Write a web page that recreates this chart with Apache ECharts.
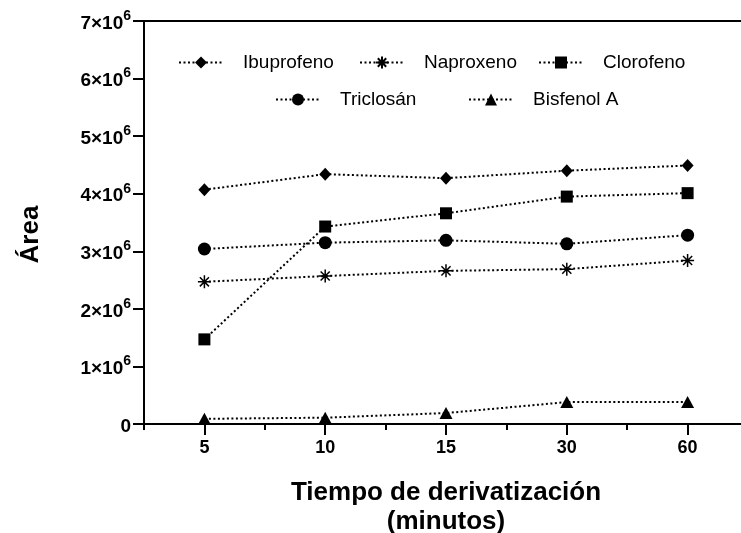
<!DOCTYPE html>
<html>
<head>
<meta charset="utf-8">
<title>Área vs tiempo de derivatización</title>
<script src="https://cdn.jsdelivr.net/npm/echarts@6/dist/echarts.min.js"></script>
<style>
	html, body { margin: 0; padding: 0; background: #fff; }
	.chart { width: 741px; height: 533px; }
</style>
</head>
<body>
<div class="chart"></div>
<script>
// data (Área)
let times = ['5', '10', '15', '30', '60'];
let seriesNames = ['Ibuprofeno', 'Naproxeno', 'Clorofeno', 'Triclosán', 'Bisfenol A'];
let ibuprofeno = [4.07e6, 4.34e6, 4.27e6, 4.40e6, 4.49e6];
let naproxeno = [2.47e6, 2.57e6, 2.66e6, 2.69e6, 2.84e6];
let clorofeno = [1.47e6, 3.43e6, 3.66e6, 3.95e6, 4.01e6];
let triclosan = [3.04e6, 3.15e6, 3.19e6, 3.13e6, 3.28e6];
let bisfenol = [0.09e6, 0.11e6, 0.19e6, 0.38e6, 0.38e6];
let yTicks = [0, 1e6, 2e6, 3e6, 4e6, 5e6, 6e6, 7e6];

(function() {
	// 1、init
	let myChart = echarts.init(document.querySelector('.chart'));

	let font = 'Liberation Sans, Arial, sans-serif';
	let asterisk = 'path://M0,5L10,5M5,0L5,10M1.5,1.5L8.5,8.5M8.5,1.5L1.5,8.5';
	let symbols = ['diamond', asterisk, 'rect', 'circle', 'triangle'];
	let sizes = [[12, 13], 13, 12, 13, [13, 12]];
	let allData = [ibuprofeno, naproxeno, clorofeno, triclosan, bisfenol];

	// legend positions (one legend per entry, laid out like the figure)
	let legendPos = [[173, 48], [354, 48], [533, 48], [270, 85], [463, 85]];

	function makeLegend(i) {
		return {
			data: [seriesNames[i]],
			left: legendPos[i][0],
			top: legendPos[i][1],
			itemWidth: 44,
			itemHeight: 15,
			textStyle: {
				color: '#000',
				fontFamily: font,
				fontSize: 19,
				padding: [0, 0, 0, 15]
			}
		};
	}

	// 2、option
	let option = {
		backgroundColor: '#fff',
		animation: false,
		legend: [0, 1, 2, 3, 4].map(makeLegend),
		grid: {
			left: 144,
			right: -7,
			top: 21,
			bottom: 109,
			outerBoundsMode: 'none'
		},
		xAxis: [{
			type: 'category',
			data: times,
			boundaryGap: true,
			axisLine: { lineStyle: { color: '#000', width: 2 } },
			axisTick: { show: true, alignWithLabel: true, length: 11, lineStyle: { color: '#000', width: 2 } },
			axisLabel: {
				color: '#000',
				fontFamily: font,
				fontWeight: 'bold',
				fontSize: 18,
				margin: 15
			},
			name: 'Tiempo de derivatización\n(minutos)',
			nameLocation: 'middle',
			nameGap: 54,
			nameTextStyle: {
				color: '#000',
				fontFamily: font,
				fontWeight: 'bold',
				fontSize: 26,
				lineHeight: 29
			}
		}, {
			// minor ticks between categories
			type: 'category',
			data: times,
			position: 'bottom',
			boundaryGap: true,
			axisLine: { show: false },
			axisTick: { show: true, length: 6, lineStyle: { color: '#000', width: 2 } },
			axisLabel: { show: false }
		}, {
			// top frame line
			type: 'category',
			data: times,
			position: 'top',
			axisLine: { lineStyle: { color: '#000', width: 2 } },
			axisTick: { show: false },
			axisLabel: { show: false }
		}],
		yAxis: {
			type: 'value',
			min: yTicks[0],
			max: yTicks[yTicks.length - 1],
			interval: 1e6,
			splitLine: { show: false },
			axisLine: { show: true, lineStyle: { color: '#000', width: 2 } },
			axisTick: { show: true, length: 11, lineStyle: { color: '#000', width: 2 } },
			axisLabel: {
				margin: 13,
				color: '#000',
				fontFamily: font,
				fontWeight: 'bold',
				formatter: function(v) {
					if (v === 0) return '{b|0}';
					return '{b|' + Math.round(v / 1e6) + '×10}{s|6}';
				},
				rich: {
					b: { fontFamily: font, fontWeight: 'bold', fontSize: 19, color: '#000', lineHeight: 24, verticalAlign: 'bottom' },
					s: { fontFamily: font, fontWeight: 'bold', fontSize: 14, color: '#000', lineHeight: 24, verticalAlign: 'top' }
				}
			},
			name: 'Área',
			nameLocation: 'middle',
			nameGap: 100,
			nameRotate: 90,
			nameTextStyle: {
				color: '#000',
				fontFamily: font,
				fontWeight: 'bold',
				fontSize: 26,
				padding: [0, 24, 0, 0]
			}
		},
		series: seriesNames.map(function(name, i) {
			return {
				name: name,
				type: 'line',
				data: allData[i],
				symbol: symbols[i],
				symbolSize: sizes[i],
				showAllSymbol: true,
				lineStyle: { color: '#000', width: 2, type: [2, 2.5] },
				itemStyle: {
					color: '#000',
					borderColor: '#000',
					borderWidth: i === 1 ? 1.5 : 0
				},
				z: 3
			};
		})
	};

	// 3、set option
	myChart.setOption(option);

	// 4、resize
	window.addEventListener('resize', function() {
		myChart.resize();
	})
})();
</script>
</body>
</html>
